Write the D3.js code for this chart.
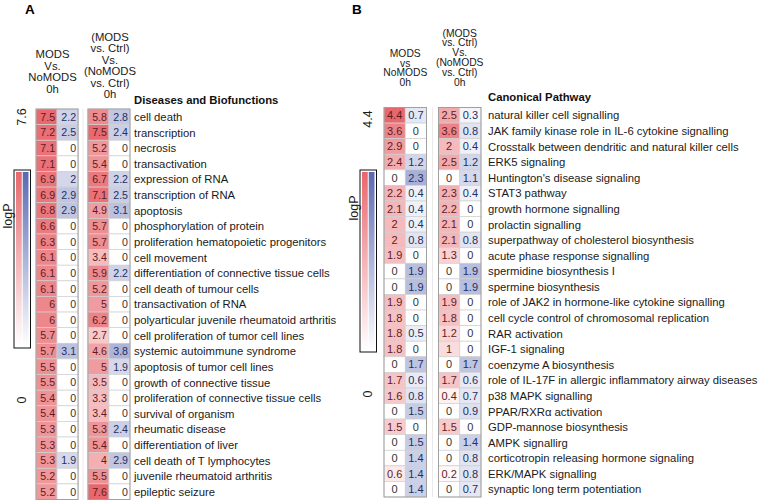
<!DOCTYPE html>
<html><head><meta charset="utf-8">
<script src="https://cdn.jsdelivr.net/npm/d3@7"></script>
<style>body{margin:0;background:#fff} svg{display:block} text{font-family:"Liberation Sans",Arial,sans-serif}</style>
</head><body><svg id="c" width="762" height="504"></svg>
<script>
// ---------- DATA ----------
const termsA = ["cell death","transcription","necrosis","transactivation","expression of RNA","transcription of RNA","apoptosis","phosphorylation of protein","proliferation hematopoietic progenitors","cell movement","differentiation of connective tissue cells","cell death of tumour cells","transactivation of RNA","polyarticular juvenile rheumatoid arthritis","cell proliferation of tumor cell lines","systemic autoimmune syndrome","apoptosis of tumor cell lines","growth of connective tissue","proliferation of connective tissue cells","survival of organism","rheumatic disease","differentiation of liver","cell death of T lymphocytes","juvenile rheumatoid arthritis","epileptic seizure"];
const aLeftRed   = [7.5,7.2,7.1,7.1,6.9,6.9,6.8,6.6,6.3,6.1,6.1,6.1,6,6,5.7,5.7,5.5,5.5,5.4,5.4,5.3,5.3,5.3,5.2,5.2];
const aLeftBlue  = [2.2,2.5,0,0,2,2.9,2.9,0,0,0,0,0,0,0,0,3.1,0,0,0,0,0,0,1.9,0,0];
const aRightRed  = [5.8,7.5,5.2,5.4,6.7,7.1,4.9,5.7,5.7,3.4,5.9,5.2,5,6.2,2.7,4.6,5,3.5,3.3,3.4,5.3,5.4,4,5.5,7.6];
const aRightBlue = [2.8,2.4,0,0,2.2,2.5,3.1,0,0,0,2.2,0,0,0,0,3.8,1.9,0,0,0,2.4,0,2.9,0,0];
const aMax = 7.6;

const termsB = ["natural killer cell signalling","JAK family kinase role in IL-6 cytokine signalling","Crosstalk between dendritic and natural killer cells","ERK5 signaling","Huntington's disease signaling","STAT3 pathway","growth hormone signalling","prolactin signalling","superpathway of cholesterol biosynthesis","acute phase response signalling","spermidine biosynthesis I","spermine biosynthesis","role of JAK2 in hormone-like cytokine signalling","cell cycle control of chromosomal replication","RAR activation","IGF-1 signaling","coenzyme A biosynthesis","role of IL-17F in allergic inflammatory airway diseases","p38 MAPK signalling","PPAR/RXR\u03b1 activation","GDP-mannose biosynthesis","AMPK signallirg","corticotropin releasing hormone signaling","ERK/MAPK signalling","synaptic long term potentiation"];
const bLeftRed   = [4.4,3.6,2.9,2.4,0,2.2,2.1,2,2,1.9,0,0,1.9,1.8,1.8,1.8,0,1.7,1.6,0,1.5,0,0,0.6,0];
const bLeftBlue  = [0.7,0,0,1.2,2.3,0.4,0.4,0.4,0.8,0,1.9,1.9,0,0,0.5,0,1.7,0.6,0.8,1.5,0,1.5,1.4,1.4,1.4];
const bRightRed  = [2.5,3.6,2,2.5,0,2.3,2.2,2.1,2.1,1.3,0,0,1.9,1.8,1.2,1,0,1.7,0.4,0,1.5,0,0,0.2,0];
const bRightBlue = [0.3,0.8,0.4,1.2,1.1,0.4,0,0,0.8,0,1.9,1.9,0,0,0,0,1.7,0.6,0.7,0.9,0,1.4,0.8,0.8,0.7];
const bMax = 4.4;

const headerLeftA  = ["MODS","Vs.","NoMODS","0h"];
const headerLeftB  = ["MODS","vs","NoMODS","0h"];
const headerRight  = ["(MODS","vs. Ctrl)","Vs.","(NoMODS","vs. Ctrl)","0h"];
const titleA = "Diseases and Biofunctions";
const titleB = "Canonical Pathway";

// ---------- DRAW ----------
const svg = d3.select("#c");
const RED = "#e8676d", BLUE = "#5a68b2";
const FS = 11.3;

const defs = svg.append("defs");
[["gRed",RED],["gBlue",BLUE]].forEach(([id,c])=>{
  const g = defs.append("linearGradient").attr("id",id).attr("x1",0).attr("y1",1).attr("x2",0).attr("y2",0);
  g.append("stop").attr("offset","0%").attr("stop-color","#fff");
  g.append("stop").attr("offset","100%").attr("stop-color",c);
});

function panel(o){
  const g = svg.append("g");
  const n = o.terms.length;
  const y = d3.scaleBand().domain(d3.range(n)).range([o.top, o.bottom]);
  const blk = d3.scaleBand().domain([0,1]).range([o.x0, o.x1]).paddingInner(o.gap);
  const inner = d3.scaleBand().domain(["red","blue"]).range([0, blk.bandwidth()]);
  const red = d3.scaleLinear().domain([0,o.max]).range(["#ffffff",RED]);
  const blue = d3.scaleLinear().domain([0,o.max]).range(["#ffffff",BLUE]);
  const cols = [
    {b:0,k:"red",v:o.lr},{b:0,k:"blue",v:o.lb},{b:1,k:"red",v:o.rr},{b:1,k:"blue",v:o.rb}
  ];
  const cells = [];
  cols.forEach(c=>c.v.forEach((v,i)=>cells.push({b:c.b,k:c.k,v,i})));
  const cx = d=>blk(d.b)+inner(d.k);
  g.selectAll("rect.cell").data(cells).join("rect")
    .attr("x",cx).attr("y",d=>y(d.i))
    .attr("width",inner.bandwidth()).attr("height",y.bandwidth())
    .attr("fill",d=>d.v===0?"#fff":(d.k==="red"?red(d.v):blue(d.v)))
    .attr("stroke","#d0d0d0").attr("stroke-width",0.7);
  g.selectAll("rect.blk").data([0,1]).join("rect")
    .attr("x",d=>blk(d)).attr("y",o.top).attr("width",blk.bandwidth()).attr("height",o.bottom-o.top)
    .attr("fill","none").attr("stroke","#9a9a9a").attr("stroke-width",0.9);
  const mid = blk(0)+blk.bandwidth()+(blk(1)-blk(0)-blk.bandwidth())/2;
  g.append("line").attr("x1",mid).attr("x2",mid)
    .attr("y1",o.top).attr("y2",o.bottom).attr("stroke","#e4e4e4").attr("stroke-width",0.8);
  g.selectAll("text.val").data(cells).join("text")
    .attr("x",d=> o.align==="end" ? cx(d)+inner.bandwidth()-2 : cx(d)+inner.bandwidth()/2)
    .attr("y",d=>y(d.i)+y.bandwidth()/2+3.9)
    .attr("text-anchor",o.align==="end"?"end":"middle")
    .attr("font-size",o.valFs)
    .attr("fill",d=>d.v===0?"#333":(d.k==="red"?"#5e1c1f":"#24305e"))
    .text(d=>d.v);
  g.selectAll("text.lab").data(o.terms).join("text")
    .attr("x",o.labX).attr("y",(d,i)=>y(i)+y.bandwidth()/2+4.2)
    .attr("font-size",FS).attr("fill","#1a1a1a").text(d=>d);
  g.append("text").attr("x",o.labX).attr("y",o.titleY).attr("font-size",FS).attr("font-weight","bold")
    .attr("fill","#111").text(o.title);
  const hc0 = blk(0)+blk.bandwidth()/2 + o.hOff0, hc1 = blk(1)+blk.bandwidth()/2 + o.hOff1;
  g.selectAll("text.h0").data(o.hLeft).join("text")
    .attr("x",hc0).attr("y",(d,i)=>o.hLeftY+i*o.lhL).attr("text-anchor","middle")
    .attr("font-size",o.hFs).attr("fill","#1a1a1a").text(d=>d);
  g.selectAll("text.h1").data(o.hRight).join("text")
    .attr("x",hc1).attr("y",(d,i)=>o.hRightY+i*o.lhR).attr("text-anchor","middle")
    .attr("font-size",o.hFs).attr("fill","#1a1a1a").text(d=>d);
  g.append("text").attr("x",o.letterX).attr("y",14).attr("font-size",13.5).attr("font-weight","bold").text(o.letter);
  const L = o.leg, W = 16.5, sw = (W-5)/2;
  g.append("rect").attr("x",L.x+2).attr("y",L.y0+2).attr("width",sw).attr("height",L.y1-L.y0-4).attr("fill","url(#gRed)");
  g.append("rect").attr("x",L.x+3+sw).attr("y",L.y0+2).attr("width",sw).attr("height",L.y1-L.y0-4).attr("fill","url(#gBlue)");
  g.append("rect").attr("x",L.x).attr("y",L.y0).attr("width",W).attr("height",L.y1-L.y0)
    .attr("fill","none").attr("stroke","#111").attr("stroke-width",1);
  const rot = (txt,x,yy)=>g.append("text").attr("transform",`translate(${x},${yy}) rotate(-90)`)
    .attr("text-anchor","middle").attr("font-size",12.5).attr("fill","#1a1a1a").text(txt);
  rot(o.maxLabel, L.x+W/2+4, L.maxY);
  rot("logP", L.x-2, L.logY);
  rot("0", L.x+W/2+4, L.zeroY);
}

panel({terms:termsA, lr:aLeftRed, lb:aLeftBlue, rr:aRightRed, rb:aRightBlue, max:aMax,
  top:109, bottom:499.5, x0:36, x1:130, gap:0.19, align:"end", labX:134, valFs:10.6,
  title:titleA, titleY:104, hLeft:headerLeftA, hRight:headerRight, hFs:11.3,
  hLeftY:58, lhL:11.7, hRightY:41, lhR:11.4,
  hOff0:-4.5, hOff1:1, letter:"A", letterX:25,
  leg:{x:14, y0:170, y1:348, maxY:117, logY:216, zeroY:400}, maxLabel:"7.6"});

panel({terms:termsB, lr:bLeftRed, lb:bLeftBlue, rr:bRightRed, rb:bRightBlue, max:bMax,
  top:107.5, bottom:497, x0:384, x1:481, gap:0.22, align:"middle", labX:488, valFs:11,
  title:titleB, titleY:101, hLeft:headerLeftB, hRight:headerRight, hFs:10.3,
  hLeftY:57, lhL:9.6, hRightY:36.5, lhR:9.8,
  hOff0:0, hOff1:0, letter:"B", letterX:352,
  leg:{x:360, y0:170, y1:352, maxY:119, logY:208, zeroY:394}, maxLabel:"4.4"});
</script></body></html>
